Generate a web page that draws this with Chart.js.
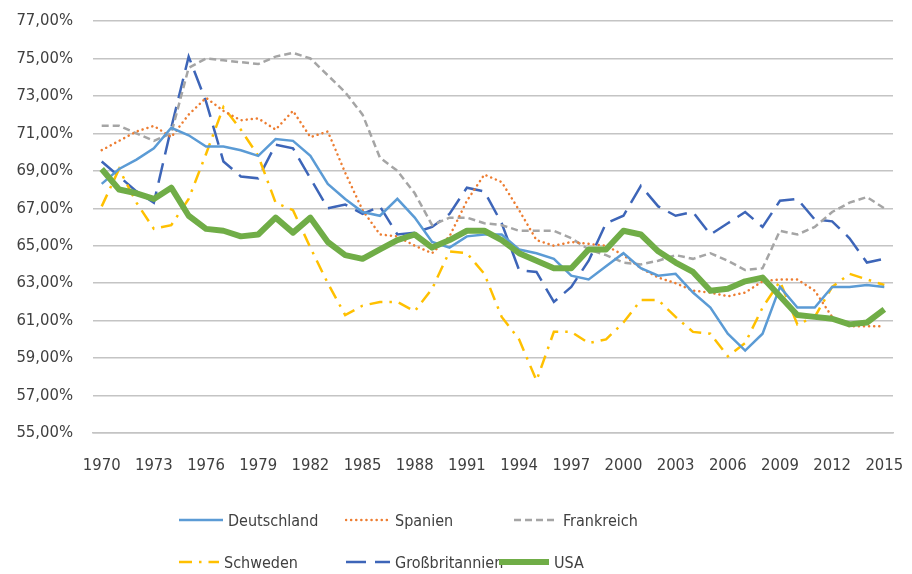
<!DOCTYPE html>
<html lang="de">
<head>
    <meta charset="UTF-8" />
    <title>Erwerbsquote</title>
    <script src="https://cdn.jsdelivr.net/npm/chart.js"></script>
    <style>
        body {
            margin: 0;
            padding: 0;
            background: #fff;
            font-family: 'Liberation Sans Narrow', 'DejaVu Sans Condensed', 'Liberation Sans', sans-serif;
            color: #404040;
        }

        .wrap {
            position: relative;
            width: 912px;
            height: 574px;
        }

        .chart-box {
            position: absolute;
            left: 0;
            top: 0;
            width: 912px;
            height: 480px;
        }

        .legend {
            position: absolute;
            left: 0;
            top: 0;
            width: 912px;
            height: 574px;
            pointer-events: none;
        }

        .legend .item {
            position: absolute;
            display: flex;
            align-items: center;
            font-size: 16px;
            color: #404040;
            white-space: nowrap;
        }

        .legend canvas {
            margin-right: 4px;
        }
    </style>
</head>
<body>
    <div class="wrap">
        <div class="chart-box">
            <canvas id="lineChart"></canvas>
        </div>
        <div class="legend" id="legend"></div>
    </div>

    <script>
        const FONT = "'Liberation Sans Narrow', 'DejaVu Sans Condensed', 'Liberation Sans', sans-serif";

        const years = [
            '1970', '1971', '1972', '1973', '1974', '1975', '1976', '1977', '1978', '1979',
            '1980', '1981', '1982', '1983', '1984', '1985', '1986', '1987', '1988', '1989',
            '1990', '1991', '1992', '1993', '1994', '1995', '1996', '1997', '1998', '1999',
            '2000', '2001', '2002', '2003', '2004', '2005', '2006', '2007', '2008', '2009',
            '2010', '2011', '2012', '2013', '2014', '2015'
        ];
        const shownYears = ['1970', '1973', '1976', '1979', '1982', '1985', '1988', '1991',
            '1994', '1997', '2000', '2003', '2006', '2009', '2012', '2015'];

        const deutschland = [
            68.3, 69.1, 69.6, 70.2, 71.3, 70.9, 70.3, 70.3, 70.1, 69.8,
            70.7, 70.6, 69.8, 68.3, 67.5, 66.8, 66.6, 67.5, 66.5, 65.2,
            64.9, 65.5, 65.6, 65.6, 64.8, 64.6, 64.3, 63.4, 63.2, 63.9,
            64.6, 63.8, 63.4, 63.5, 62.5, 61.7, 60.3, 59.4, 60.3, 62.8,
            61.7, 61.7, 62.8, 62.8, 62.9, 62.8
        ];
        const spanien = [
            70.1, 70.6, 71.1, 71.4, 70.8, 72.0, 72.9, 72.2, 71.7, 71.8,
            71.2, 72.2, 70.8, 71.1, 68.9, 66.9, 65.6, 65.5, 65.0, 64.6,
            65.5, 67.4, 68.8, 68.4, 66.9, 65.3, 65.0, 65.2, 65.1, 65.0,
            64.5, 63.8, 63.3, 63.0, 62.6, 62.5, 62.3, 62.5, 63.1, 63.2,
            63.2, 62.6, 61.2, 60.7, 60.7, 60.7
        ];
        const frankreich = [
            71.4, 71.4, 71.0, 70.6, 71.0, 74.5, 75.0, 74.9, 74.8, 74.7,
            75.1, 75.3, 75.0, 74.1, 73.2, 72.0, 69.7, 69.0, 67.8, 66.1,
            66.5, 66.5, 66.2, 66.1, 65.8, 65.8, 65.8, 65.4, 64.8, 64.5,
            64.1, 64.0, 64.2, 64.5, 64.3, 64.6, 64.2, 63.7, 63.8, 65.8,
            65.6, 66.0, 66.8, 67.3, 67.6, 67.0
        ];
        const schweden = [
            67.1, 69.1, 67.3, 65.9, 66.1, 67.5, 69.9, 72.4, 71.2, 69.8,
            67.3, 66.9, 64.9, 63.0, 61.3, 61.8, 62.0, 62.0, 61.5, 62.7,
            64.7, 64.6, 63.5, 61.2, 60.0, 57.8, 60.4, 60.4, 59.8, 60.0,
            60.9, 62.1, 62.1, 61.2, 60.4, 60.3, 59.1, 59.8, 61.7, 63.1,
            60.8, 61.2, 62.8, 63.5, 63.2, 62.9
        ];
        const grossbritannien = [
            69.5, 68.7, 67.9, 67.3, 71.3, 75.1, 72.7, 69.5, 68.7, 68.6,
            70.4, 70.2, 68.6, 67.0, 67.2, 66.7, 67.1, 65.6, 65.7, 66.0,
            66.7, 68.1, 67.9, 66.2, 63.7, 63.6, 62.0, 62.8, 64.2, 66.2,
            66.6, 68.2, 67.1, 66.6, 66.8, 65.6, 66.2, 66.8, 66.0, 67.4,
            67.5, 66.4, 66.3, 65.4, 64.1, 64.3
        ];
        const usa = [
            69.1, 68.0, 67.8, 67.5, 68.1, 66.6, 65.9, 65.8, 65.5, 65.6,
            66.5, 65.7, 66.5, 65.2, 64.5, 64.3, 64.8, 65.3, 65.6, 64.9,
            65.3, 65.8, 65.8, 65.3, 64.6, 64.2, 63.8, 63.8, 64.8, 64.8,
            65.8, 65.6, 64.7, 64.1, 63.6, 62.6, 62.7, 63.1, 63.3, 62.3,
            61.3, 61.2, 61.1, 60.8, 60.9, 61.6
        ];

        const GRID = '#c4c4c4';

        // legend slots: [left, center y] like the original Excel layout
        const legendSlots = [[178, 520], [345, 520], [513, 520], [178, 562], [345, 562], [498, 562]];

        const lineCtx = document.getElementById('lineChart').getContext('2d');

        let lineChart = new Chart(lineCtx, {
            type: 'line',
            data: {
                labels: years,
                datasets: [
                    {
                        label: 'Deutschland',
                        data: deutschland,
                        borderColor: '#5B9BD5',
                        borderWidth: 2.5,
                        order: 1
                    },
                    {
                        label: 'Spanien',
                        data: spanien,
                        borderColor: '#ED7D31',
                        borderWidth: 2.5,
                        borderDash: [0.1, 5],
                        borderCapStyle: 'round',
                        order: 2
                    },
                    {
                        label: 'Frankreich',
                        data: frankreich,
                        borderColor: '#A5A5A5',
                        borderWidth: 2.5,
                        borderDash: [7, 4],
                        order: 3
                    },
                    {
                        label: 'Schweden',
                        data: schweden,
                        borderColor: '#FFC000',
                        borderWidth: 2.5,
                        borderDash: [13, 7, 2.5, 7],
                        order: 4
                    },
                    {
                        label: 'Großbritannien',
                        data: grossbritannien,
                        borderColor: '#3D65B8',
                        borderWidth: 2.5,
                        borderDash: [20, 9],
                        order: 5
                    },
                    {
                        label: 'USA',
                        data: usa,
                        borderColor: '#70AD47',
                        borderWidth: 6,
                        borderJoinStyle: 'round',
                        order: 0
                    }
                ]
            },
            options: {
                responsive: true,
                maintainAspectRatio: false,
                animation: false,
                events: [],
                elements: {
                    point: { radius: 0 },
                    line: { tension: 0, fill: false }
                },
                layout: {
                    padding: { top: 21, right: 19, bottom: 0, left: 0 }
                },
                plugins: {
                    legend: { display: false },
                    tooltip: { enabled: false }
                },
                scales: {
                    x: {
                        offset: true,
                        grid: { display: false, drawTicks: false },
                        border: { display: true, color: GRID, width: 1.5 },
                        ticks: {
                            autoSkip: false,
                            maxRotation: 0,
                            padding: 23,
                            color: '#404040',
                            font: { family: FONT, size: 16.5 },
                            callback: function (value) {
                                const y = this.getLabelForValue(value);
                                return shownYears.includes(y) ? y : '';
                            }
                        },
                        afterFit: function (scale) {
                            scale.height = 47;
                            scale.paddingLeft = 0;
                            scale.paddingRight = 0;
                        }
                    },
                    y: {
                        min: 55,
                        max: 77,
                        grid: { color: GRID, lineWidth: 1.5, drawTicks: false },
                        border: { display: false },
                        ticks: {
                            stepSize: 2,
                            padding: 20,
                            color: '#404040',
                            font: { family: FONT, size: 16.5 },
                            callback: (v) => v.toFixed(2).replace('.', ',') + '%'
                        },
                        afterFit: function (scale) {
                            scale.width = 93;
                            scale.paddingTop = 0;
                            scale.paddingBottom = 0;
                        }
                    }
                }
            }
        });

        // legend built from the chart's own datasets
        const legendOrder = ['Deutschland', 'Spanien', 'Frankreich', 'Schweden', 'Großbritannien', 'USA'];
        const legendEl = document.getElementById('legend');
        legendOrder.forEach((name, i) => {
            const ds = lineChart.data.datasets.find(d => d.label === name);
            const item = document.createElement('div');
            item.className = 'item';
            item.style.left = legendSlots[i][0] + 'px';
            item.style.top = (legendSlots[i][1] - 12) + 'px';
            item.style.height = '24px';

            const c = document.createElement('canvas');
            const w = name === 'USA' ? 52 : (name === 'Schweden' ? 42 : 46);
            c.width = w;
            c.height = 12;
            const g = c.getContext('2d');
            g.strokeStyle = ds.borderColor;
            g.lineWidth = ds.borderWidth;
            g.lineCap = ds.borderCapStyle || 'butt';
            g.setLineDash(ds.borderDash || []);
            g.beginPath();
            g.moveTo(1, 6);
            g.lineTo(w - 1, 6);
            g.stroke();

            const t = document.createElement('span');
            t.textContent = name;
            item.appendChild(c);
            item.appendChild(t);
            legendEl.appendChild(item);
        });
    </script>
</body>
</html>
